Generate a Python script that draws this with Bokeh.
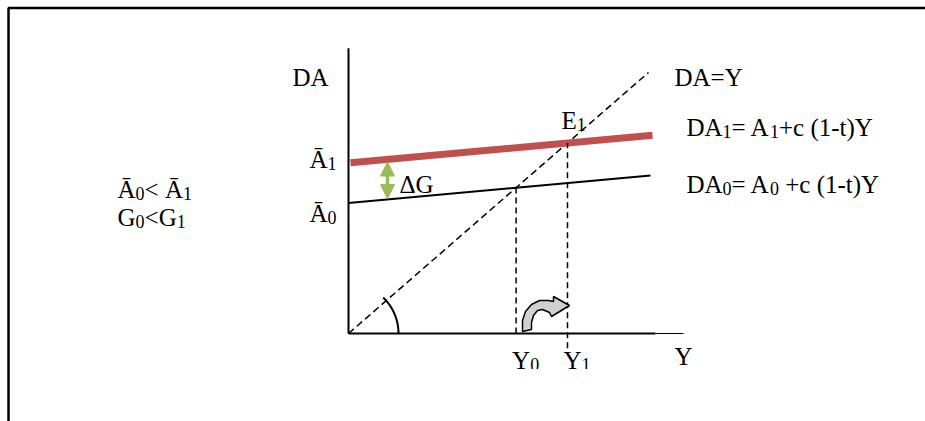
import numpy as np
from bokeh.plotting import figure
from bokeh.models import Range1d, Arrow, NormalHead
from bokeh.core.properties import value
from bokeh.embed import file_html
from bokeh.resources import INLINE

# ---- model (Keynesian cross) ----
A0 = 150.0          # autonomous demand before
A1 = 196.0          # autonomous demand after (A0 + dG)
B = 0.105           # c(1-t), slope of DA
Y_LINE_END = 302.0  # horizontal extent of DA lines
Y_DIAG_END = 300.0  # extent of DA=Y line
DA_AXIS_TOP = 328.0
Y_AXIS_END = 335.0
Y_AXIS_THICK_END = 307.0

Y0 = A0 / (1 - B)
Y1 = A1 / (1 - B)

# text labels ("_d" marks a subscript digit) and their left / baseline positions
LABELS = ["DA", "Ā_1", "Ā_0", "ΔG", "E_1", "DA=Y", "DA_1= A_1+c (1-t)Y", "DA_0= A_0 +c (1-t)Y",
          "Ā_0< Ā_1", "G_0<G_1", "Y"]
LABEL_PX = [(292, 85), (309, 167), (309, 221), (399, 192), (561, 128), (674, 85), (686, 135),
            (686, 192), (117, 197), (117, 225), (674, 364)]

# screen scale: 1 px per x unit, 0.87 px per y unit
KY = 0.87
W, H = 925, 421
X_MIN, X_MAX = -348.0, W - 348.0
Y_MIN, Y_MAX = (333.0 - H) / KY, 333.0 / KY


def px(x, y):
    """convert a reference pixel position to data units"""
    return x - 348.0, (333.0 - y) / KY


RED = "#C0504D"
GREEN = "#9BBB59"
FONT = value("Liberation Serif")
FS = 25.0
FS_SUB = 18.0
SUB_DROP = 2.0
CAP_MID = 0.33   # cap-height centre above the baseline, in em
ADV = {'D': 722, 'A': 722, 'Ā': 722, '=': 564, ' ': 250, '+': 564, 'c': 444, '(': 333, ')': 333,
       '1': 500, '0': 500, '-': 333, 't': 278, 'Y': 722, '<': 564, 'G': 722, 'E': 611, 'Δ': 612}

p = figure(width=W, height=H, x_range=Range1d(X_MIN, X_MAX), y_range=Range1d(Y_MIN, Y_MAX),
           output_backend="svg", toolbar_location=None, min_border=0,
           x_axis_type=None, y_axis_type=None, outline_line_color=None,
           background_fill_color="white", border_fill_color="white")
p.grid.visible = False

# outer frame (top and left edges)
fx0, fy0 = px(8, 7.5)
p.line([fx0, fx0, X_MAX], [Y_MIN, fy0, fy0], line_color="black", line_width=2.5)

# axes
p.line([0, 0], [0, DA_AXIS_TOP], line_color="black", line_width=2)
p.line([0, Y_AXIS_THICK_END], [0, 0], line_color="black", line_width=2)
p.line([Y_AXIS_THICK_END, Y_AXIS_END], [0, 0], line_color="black", line_width=1)

# 45-degree line DA = Y
p.line([0, Y_DIAG_END], [0, Y_DIAG_END], line_color="black", line_width=1.5, line_dash="7 4")

# DA0 and DA1
yy = np.array([0.0, Y_LINE_END])
p.line(yy, A0 + B * yy, line_color="black", line_width=2)
p.line(yy + 2, A1 + B * (yy + 2), line_color=RED, line_width=7)

# vertical dashed drops
p.line([Y0, Y0], [0, Y0], line_color="black", line_width=1.5, line_dash="6 4")
p.line([Y1, Y1], [-17, Y1], line_color="black", line_width=1.5, line_dash="6 4")

# angle arc at origin
th = np.radians(np.linspace(0, 46, 40))
p.line(50 * np.cos(th), 50 * np.sin(th) / KY, line_color="black", line_width=2)

# green double arrow (delta G)
xg = 39.0
head = dict(size=14, fill_color=GREEN, line_color=GREEN)
p.add_layout(Arrow(start=NormalHead(**head), end=NormalHead(**head),
                   x_start=xg, y_start=A0 + B * xg + 1, x_end=xg, y_end=A1 + B * xg - 3,
                   line_color=GREEN, line_width=3.5))

# curved grey arrow from Y0 to Y1
arrow_px = [(522, 331), (522, 320), (525, 311), (531, 304), (539, 300), (548, 300), (553, 301),
            (553, 296), (569, 305), (551, 316), (549, 312), (542, 309), (537, 310), (533, 315),
            (531, 322), (531, 329)]
ax = [px(a, b)[0] for a, b in arrow_px]
ay = [px(a, b)[1] for a, b in arrow_px]
p.patch(ax, ay, fill_color="#D0D0D0", line_color="black", line_width=1.5)


# text layout with subscripts (positions are cap centres, drawn with baseline="middle")
def layout(label, x0, base):
    main, sub = [], []
    x = x0
    i = 0
    while i < len(label):
        if label[i] == "_":
            d = label[i + 1]
            sub.append((x, base + SUB_DROP - CAP_MID * FS_SUB, d))
            x += ADV[d] / 1000 * FS_SUB
            i += 2
            continue
        j = i
        while j < len(label) and label[j] != "_":
            j += 1
        run = label[i:j]
        lead = len(run) - len(run.lstrip(" "))
        x += lead * ADV[' '] / 1000 * FS
        run = run.lstrip(" ")
        main.append((x, base - CAP_MID * FS, run))
        x += sum(ADV.get(c, 500) for c in run) / 1000 * FS
        i = j
    return main, sub


main_pieces, sub_pieces = [], []
for lab, (lx, lb) in zip(LABELS, LABEL_PX):
    m, s = layout(lab, lx, lb)
    main_pieces += m
    sub_pieces += s
# Y0 / Y1 tick labels under the axis
for lab, yv in (("Y_0", Y0), ("Y_1", Y1)):
    m, s = layout(lab, yv + 348 - 4, 368)
    main_pieces += m
    sub_pieces += s

p.text([px(a, b)[0] for a, b, _ in main_pieces], [px(a, b)[1] for a, b, _ in main_pieces],
       text=[t for _, _, t in main_pieces], text_font=FONT, text_font_size=f"{FS:.0f}px",
       text_baseline="middle", text_align="left", text_color="black")
p.text([px(a, b)[0] for a, b, _ in sub_pieces], [px(a, b)[1] for a, b, _ in sub_pieces],
       text=[t for _, _, t in sub_pieces], text_font=FONT, text_font_size=f"{FS_SUB:.0f}px",
       text_baseline="middle", text_align="left", text_color="black")

# the original clips the Y0 / Y1 labels just below their baseline
cx0, cy0 = px(500, 368.5)
cx1, cy1 = px(600, 395)
p.quad(left=cx0, right=cx1, top=cy0, bottom=cy1, fill_color="white", line_color=None)

open("out.html", "w").write(file_html(p, INLINE))
